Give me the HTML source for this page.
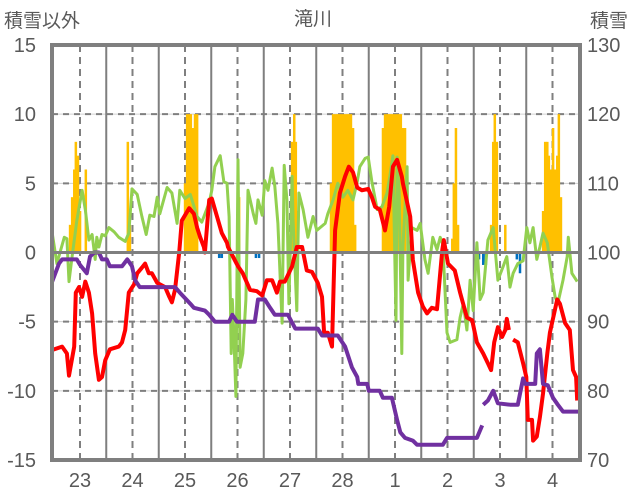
<!DOCTYPE html>
<html><head><meta charset="utf-8"><style>
html,body{margin:0;padding:0;background:#fff;overflow:hidden;width:636px;height:501px;}
svg{display:block;font-family:"Liberation Sans","Noto Sans CJK JP",sans-serif;}
</style></head><body>
<svg id="chart" width="636" height="501" viewBox="0 0 636 501">
<g id="grid"></g>
<g id="bars"></g>
<g id="lines"></g>
<g id="axes"></g>
<text x="313" y="25" font-size="19" fill="#595959" text-anchor="middle">滝川</text>
<text x="4" y="27" font-size="19" fill="#595959">積雪以外</text>
<text x="590" y="27" font-size="19" fill="#595959">積雪</text>
</svg>
<script>
const dayLabels=["23","24","25","26","27","28","1","2","3","4"];
const leftTicks=[15,10,5,0,-5,-10,-15];
const rightTicks=[130,120,110,100,90,80,70];
const redT=[-0.53,-0.34,-0.25,-0.21,-0.11,-0.08,-0.02,0.04,0.10,0.17,0.23,0.29,0.36,0.42,0.48,0.57,0.74,0.80,0.86,0.93,1.03,1.09,1.18,1.24,1.31,1.37,1.47,1.62,1.70,1.75,1.81,1.89,1.94,2.08,2.17,2.23,2.29,2.36,2.38,2.46,2.51,2.61,2.70,2.80,2.82,3.01,3.10,3.24,3.37,3.47,3.56,3.66,3.75,3.81,3.90,4.04,4.13,4.23,4.32,4.42,4.53,4.61,4.65,4.72,4.80,4.86,4.95,5.05,5.12,5.20,5.28,5.37,5.49,5.56,5.62,5.71,5.81,5.89,5.96,6.04,6.13,6.15,6.29,6.34,6.44,6.53,6.61,6.70,6.80,6.90,6.93,7.01,7.14,7.24,7.37,7.47,7.56,7.68,7.77,7.83,7.89,7.96,8.04,8.10,8.13,8.17,null,8.25,8.34,8.44,8.50,8.53,8.61,8.63,8.70,8.76,8.82,8.90,8.95,9.09,9.14,9.24,9.33,9.39,9.45,9.47];
const redV=[-7.05,-6.8,-7.3,-8.9,-6.8,-2.9,-2.5,-3.2,-2.1,-2.9,-4.4,-7.3,-9.2,-9.0,-7.8,-7.0,-6.8,-6.5,-5.6,-2.9,-2.3,-1.5,-1.1,-0.8,-1.5,-1.5,-2.2,-2.5,-3.2,-3.6,-2.7,0,2.3,3.2,2.8,1.8,1.1,0.4,0,3.8,3.9,2.6,1.4,0.7,0.4,-1.0,-1.5,-2.7,-2.8,-3.1,-2.0,-2.0,-2.9,-2.1,-2.1,-1.0,0.4,0.4,-1.3,-1.4,-2.2,-3.2,-5.8,-5.8,-6.8,1.6,4.3,5.5,6.2,5.8,4.7,4.5,4.6,4.0,3.3,3.1,1.6,3.3,6.2,6.7,5.5,5.0,2.6,-0.5,-2.9,-3.9,-4.4,-4.0,-4.1,0.2,0.9,-0.8,-1.3,-2.9,-4.7,-4.9,-6.5,-7.3,-8.0,-8.5,-6.5,-5.4,-6.1,-5.6,-4.8,-5.6,null,-6.3,-6.5,-8.0,-9.0,-12.1,-12.1,-13.6,-13.3,-11.9,-10.2,-7.3,-5.8,-3.4,-3.7,-5.1,-5.6,-8.5,-9.0,-10.7];
const purT=[-0.53,-0.40,-0.34,-0.06,0,0.13,0.19,0.27,0.36,0.42,0.51,0.57,0.80,0.90,0.99,1.05,1.14,1.81,1.90,2.00,2.10,2.17,2.38,2.46,2.57,2.84,2.90,2.99,3.33,3.39,3.52,3.62,3.71,3.96,4.10,4.53,4.61,4.91,5.05,5.18,5.28,5.30,5.47,5.50,5.71,5.77,5.94,6.04,6.10,6.19,6.34,6.42,6.91,6.99,7.56,7.66,null,7.68,7.77,7.87,7.96,8.19,8.34,8.44,8.48,8.67,8.70,8.76,8.82,8.91,9.01,9.10,9.20,9.49];
const purV=[-2.1,-0.8,-0.5,-0.5,-0.9,-1.5,-0.3,0,0,-0.5,-0.5,-1.0,-1.0,-0.5,-1.0,-2.0,-2.5,-2.5,-2.9,-3.3,-3.7,-4.0,-4.2,-4.5,-5.0,-5.0,-4.5,-5.0,-5.0,-3.4,-3.4,-4.0,-4.5,-4.5,-5.5,-5.5,-6.0,-6.0,-6.8,-8.3,-9.0,-9.5,-9.5,-10.0,-10.0,-10.5,-10.5,-12.1,-13.0,-13.4,-13.6,-13.9,-13.9,-13.4,-13.4,-12.5,null,-11.0,-10.7,-10.0,-10.9,-11.0,-11.0,-9.1,-9.5,-9.5,-7.3,-7.0,-9.5,-9.6,-10.5,-11.0,-11.5,-11.5];
const grnT=[-0.53,-0.44,-0.38,-0.30,-0.25,-0.21,-0.15,-0.06,0.04,0.10,0.17,0.23,0.29,0.32,0.36,0.42,0.48,0.55,0.65,0.74,0.86,0.93,0.99,1.09,1.18,1.26,1.33,1.41,1.47,1.52,1.66,1.75,1.85,1.90,2.00,2.10,2.23,2.32,2.46,2.51,2.57,2.67,2.74,2.80,2.84,2.88,2.90,2.93,2.97,3.01,3.05,3.10,3.16,3.20,3.30,3.35,3.39,3.47,3.52,3.58,3.66,3.71,3.77,3.85,3.89,3.94,3.98,4.04,4.06,4.13,4.17,4.25,4.34,4.44,4.51,4.67,4.72,4.82,4.91,5.01,5.10,5.20,5.28,5.33,5.43,5.49,5.56,5.66,5.75,5.85,5.90,5.96,6.02,6.04,6.08,6.13,6.15,6.23,6.25,6.32,6.42,6.48,6.57,6.63,6.72,6.80,6.86,6.91,6.99,7.05,7.18,7.24,7.30,7.37,7.43,7.49,7.56,7.62,7.68,7.77,7.87,7.96,8.06,8.13,8.19,8.25,8.34,8.44,8.51,8.57,8.63,8.70,8.76,8.82,8.90,8.99,9.05,9.10,9.20,9.28,9.30,9.37,9.47];
const grnV=[1.4,-0.8,0,1.1,1.0,-2.1,-0.3,2.3,4.5,3.1,0.9,1.3,-0.5,1.1,0.4,1.3,1.2,1.8,1.5,1.1,0.8,1.4,4.6,4.2,2.6,1.3,2.7,2.6,4.0,2.8,4.7,4.3,2.1,4.5,3.9,4.2,2.6,2.2,3.6,4.5,6.2,7.0,5.1,5.0,2.6,-7.3,-3.4,-5.8,-10.4,6.7,-8.3,-7.3,-3.4,4.5,2.8,2.1,3.8,2.7,5.2,4.5,6.1,4.8,2.1,-5.1,6.3,3.8,-3.7,5.5,2.3,-4.2,4.3,3.1,1.1,2.6,1.6,2.1,2.8,3.8,5.0,4.0,4.5,3.8,5.1,6.2,6.8,6.9,5.1,3.1,3.3,4.3,5.5,7.0,-4.9,6.9,4.3,-7.3,0.4,6.2,-2.0,1.8,1.6,2.1,-0.5,-1.5,1.1,0.2,1.1,0.6,-5.8,-6.5,-6.3,-4.7,-3.7,-5.6,-2.0,-4.2,0.7,-3.4,-2.9,0.9,1.8,-2.0,-1.0,-0.3,-2.5,-1.5,-0.8,-0.6,1.8,0.7,1.8,-0.5,0.4,1.4,0.7,-1.8,-3.2,-3.7,-2.0,-0.3,1.1,-1.5,-2.1];
const snowT=[-0.19,-0.15,-0.11,-0.08,-0.04,0,0.11,0.91,0.95,2.00,2.04,2.08,2.11,2.15,2.19,2.23,3.03,4.04,4.08,4.11,4.15,4.78,4.82,4.86,4.90,4.93,4.97,5.01,5.05,5.09,5.12,5.16,5.20,5.24,5.77,5.81,5.85,5.89,5.92,5.96,6.00,6.04,6.08,6.11,6.15,6.19,7.09,7.12,7.16,7.20,7.83,7.87,7.90,7.94,8.10,8.82,8.86,8.90,8.93,8.97,9.01,9.05,9.09,9.12,9.16];
const snowV=[2,4,6,8,7,3,6,8,2,5,10,10,10,9,10,10,4,8,10,8,3,5,10,10,10,10,10,10,10,10,10,10,9,2,9,10,10,10,10,10,10,10,10,10,9,9,1,5,9,2,2,8,10,8,2,3,8,8,7,6,9,6,7,10,4];
const blueT=[2.65,2.70,3.35,3.41,7.60,7.68,7.73,8.32,8.38];
const blueV=[-0.4,-0.4,-0.4,-0.4,-0.5,-0.9,-0.9,-0.5,-1.5];

const X0=52,X1=580,Y0=45,Y1=460;
const xs=d=>80+52.5*d;
const ys=v=>252.5-(v/15)*207.5;
const yr=v=>252.5-((v-100)/30)*207.5;
const NS="http://www.w3.org/2000/svg";
function mk(tag,attrs,parent){const e=document.createElementNS(NS,tag);for(const k in attrs)e.setAttribute(k,attrs[k]);parent.appendChild(e);return e;}
const grid=document.getElementById('grid'),bars=document.getElementById('bars'),lines=document.getElementById('lines'),axes=document.getElementById('axes');

leftTicks.forEach(t=>{
  const y=ys(t);
  if(t!==0&&Math.abs(t)!==15){
    const l=mk('line',{x1:X0,x2:X1,y1:y,y2:y,stroke:'#d0d0d0','stroke-width':1},grid);
    
    
    const d=mk('line',{x1:X0,x2:X1,y1:y,y2:y,stroke:'#7f7f7f','stroke-width':2,'stroke-dasharray':'6,5'},grid);
    
    
  }
  const tx=mk('text',{x:36,y:y+7,'font-size':20,fill:'#595959','text-anchor':'end'},axes);
  tx.textContent=t;
  
  
});
rightTicks.forEach(t=>{
  const tx=mk('text',{x:587,y:yr(t)+7,'font-size':20,fill:'#595959'},axes);
  tx.textContent=t;
  
  
});
dayLabels.forEach((lab,i)=>{
  const xd=xs(i);
  const dl=mk('line',{x1:xd,x2:xd,y1:Y0,y2:Y1,stroke:'#7f7f7f','stroke-width':2,'stroke-dasharray':'7,5'},grid);
  
  
  const xb=xs(i+0.5);
  if(xb<X1-3){
    const sl=mk('line',{x1:xb,x2:xb,y1:Y0,y2:Y1,stroke:'#7f7f7f','stroke-width':2},grid);
    
    
  }
  const tx=mk('text',{x:xd,y:487,'font-size':20,fill:'#595959','text-anchor':'middle'},axes);
  tx.textContent=lab;
  
  
});
const zl=mk('line',{x1:X0,x2:X1,y1:ys(0),y2:ys(0),stroke:'#7f7f7f','stroke-width':3},axes);


const fr=mk('rect',{x:X0,y:Y0,width:X1-X0,height:Y1-Y0,fill:'none',stroke:'#7f7f7f','stroke-width':4},axes);



snowT.forEach((t,i)=>{
  const y=ys(snowV[i]);
  const r=mk('rect',{x:xs(t)-1.2,y:y,width:2.5,height:ys(0)-y,fill:'#ffc000'},bars);
  
  
});
blueT.forEach((t,i)=>{
  const r=mk('rect',{x:xs(t)-1.2,y:ys(0),width:2.5,height:ys(blueV[i])-ys(0),fill:'#0070c0'},bars);
  
  
});
function pathFrom(T,V){let d='',pen=false;T.forEach((t,i)=>{if(t===null||V[i]===null){pen=false;return;}d+=(pen?'L':'M')+xs(t).toFixed(1)+','+ys(V[i]).toFixed(1);pen=true;});return d;}
const pg=mk('path',{d:pathFrom(grnT,grnV),fill:'none',stroke:'#92d050','stroke-width':3,'stroke-linejoin':'round'},lines);


const pr=mk('path',{d:pathFrom(redT,redV),fill:'none',stroke:'#ff0000','stroke-width':4,'stroke-linejoin':'round'},lines);


const pp=mk('path',{d:pathFrom(purT,purV),fill:'none',stroke:'#7030a0','stroke-width':4,'stroke-linejoin':'round'},lines);


</script>
</body></html>
